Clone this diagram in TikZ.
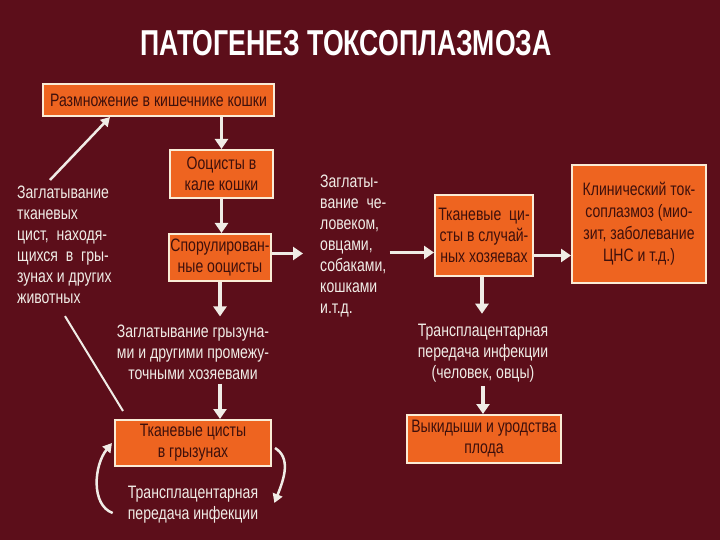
\documentclass[tikz,border=0pt]{standalone}
\usepackage{fontspec}
\setmainfont{Liberation Sans}[FakeStretch=0.78]
\newfontfamily\headfont{Liberation Sans}[FakeStretch=0.74]
\usetikzlibrary{arrows.meta, calc, positioning}
\definecolor{maroon}{RGB}{92,14,26}
\definecolor{boxfill}{RGB}{238,100,32}
\definecolor{boxline}{RGB}{250,236,214}
\definecolor{boxtext}{RGB}{62,16,12}
\definecolor{paper}{RGB}{240,236,230}
\tikzstyle{block} = [rectangle, draw=boxline, line width=2pt, fill=boxfill, text=boxtext, text centered, align=center, inner sep=1pt, font=\fontsize{18}{21}\selectfont]
\tikzstyle{note} = [text=paper, inner sep=0pt, font=\fontsize{18}{21}\selectfont]
\tikzstyle{line} = [draw=paper, line width=3.5pt, -{Triangle[length=10pt,width=13pt]}]
\tikzstyle{thinline} = [draw=paper, line width=2.5pt, -{Triangle[length=9pt,width=10pt]}]

\begin{document}
\begin{tikzpicture}[x=1pt, y=-1pt]
\fill [maroon] (0,0) rectangle (720,540);
\useasboundingbox (0,0) rectangle (720,540);
\node [text=white, font=\headfont\bfseries\fontsize{36}{36}\selectfont] (title) at (346,43) {ПАТОГЕНЕЗ ТОКСОПЛАЗМОЗА};
% cat cycle
\node [block, minimum width=231pt, minimum height=32pt] (breed) at (158.5,100) {Размножение в кишечнике кошки};
\node [block, minimum width=103pt, minimum height=48pt] (oocyst) at (221.5,174) {Ооцисты в\\кале кошки};
\node [block, minimum width=100pt, minimum height=47pt] (spor) at (220,257.5) {Спорулирован-\\ные ооцисты};
\node [note, anchor=north west, align=left] (eatcyst) at (17,186) {Заглатывание\\тканевых\\цист, \ находя-\\щихся \ в \ гры-\\зунах и других\\животных};
\node [note, align=center] (rodeat) at (193,352) {Заглатывание грызуна-\\ми и другими промежу-\\точными хозяевами};
\node [block, minimum width=156pt, minimum height=46pt] (rodcyst) at (193,443) {Тканевые цисты\\в грызунах};
\node [note, align=center] (rodtrans) at (193,505) {Трансплацентарная\\передача инфекции};
% random hosts
\node [note, anchor=north west, align=left] (hosteat) at (320,175) {Заглаты-\\вание \ че-\\ловеком,\\овцами,\\собаками,\\кошками\\и.т.д.};
\node [block, minimum width=98pt, minimum height=81pt] (hostcyst) at (484,235.5) {Тканевые \ ци-\\сты в случай-\\ных хозяевах};
\node [block, minimum width=134pt, minimum height=118pt, font=\fontsize{18}{22}\selectfont] (clinic) at (639,224) {Клинический ток-\\соплазмоз (мио-\\зит, заболевание\\ЦНС и т.д.)};
\node [note, align=center] (hosttrans) at (483,353) {Трансплацентарная\\передача инфекции\\(человек, овцы)};
\node [block, minimum width=154pt, minimum height=48pt] (abort) at (484,439) {Выкидыши и уродства\\плода};
% arrows
\path [line] (breed.south -| oocyst.north) -- (oocyst.north);
\path [line] (oocyst.south) -- (spor.north -| oocyst.south);
\path [line, shorten >=8pt] (spor.south) -- (spor.south |- rodeat.north);
\path [line, shorten <=4pt] (spor.south |- rodeat.south) -- (spor.south |- rodcyst.north);
\path [line, shorten >=17pt] ([yshift=4pt]spor.east) -- ([yshift=4pt]spor.east -| hosteat.west);
\path [line] ([yshift=-17pt]hostcyst.west -| hosteat.east) ++(3,0) -- ([yshift=-17pt]hostcyst.west);
\path [line] ([yshift=-20pt]hostcyst.east) -- ([yshift=-20pt]hostcyst.east -| clinic.west);
\path [line, shorten >=10pt] ([xshift=-2pt]hostcyst.south) -- ([xshift=-2pt]hostcyst.south |- hosttrans.north);
\path [line, shorten <=4pt] (hosttrans.south) -- (hosttrans.south |- abort.north);
\path [thinline] ([xshift=33pt,yshift=6pt]eatcyst.north west) -- ([xshift=68pt]breed.south west);
\draw [paper, line width=2pt] ([xshift=9pt,yshift=8pt]rodcyst.north west) -- ([xshift=48pt,yshift=-12pt]eatcyst.south west);
\path [thinline] ([xshift=-15pt,yshift=-8pt]rodtrans.west) .. controls +(-22,-8) and +(-18,22) .. ([xshift=-2pt]rodcyst.west);
\path [thinline] ([xshift=3pt,yshift=-5pt]rodcyst.east) .. controls +(16,10) and +(10,-25) .. ([xshift=16pt,yshift=2pt]rodtrans.east);
\end{tikzpicture}
\end{document}
